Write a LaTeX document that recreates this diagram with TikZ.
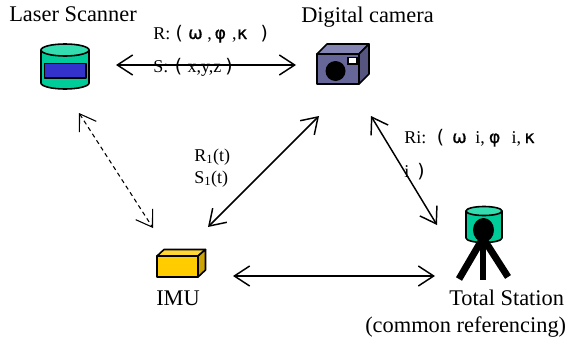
\documentclass[tikz,border=0pt]{standalone}
\usepackage{fontspec}
\setmainfont{Liberation Serif}
\newfontfamily\greekfont[FakeBold=0.6]{DejaVu Sans}
\newfontfamily\parenfont{DejaVu Sans}
\usepackage{tikz}
\usetikzlibrary{arrows.meta,positioning}
\definecolor{tealbody}{HTML}{00CC99}
\definecolor{tealtop}{HTML}{33DDB0}
\definecolor{scanblue}{HTML}{3333CC}
\definecolor{camfront}{HTML}{666699}
\definecolor{camtop}{HTML}{8585B3}
\definecolor{camside}{HTML}{55557F}
\definecolor{imufront}{HTML}{FFCC00}
\definecolor{imutop}{HTML}{FFD633}
\definecolor{imuside}{HTML}{CCA300}
\tikzset{
	biglabel/.style={anchor=base west,inner sep=0pt,font=\fontsize{16.8}{18}\selectfont},
	smalllabel/.style={anchor=base west,inner sep=0pt,font=\fontsize{13.5}{15}\selectfont},
	link/.style={line width=1.1pt,{Straight Barb[length=11.5pt,width=15pt,line width=1.1pt]}-{Straight Barb[length=11.5pt,width=15pt,line width=1.1pt]}},
	dashlink/.style={line width=.8pt,dash pattern=on 3.2pt off 2.6pt,{Straight Barb[length=11.5pt,width=15pt,line width=.8pt]}-{Straight Barb[length=11.5pt,width=15pt,line width=.8pt]}},
	icon/.style={draw=black,line width=1.2pt,line join=round}
}
\newcommand{\gr}[1]{{\greekfont\fontsize{13}{15}\selectfont #1}}
\newcommand{\pa}[1]{{\parenfont\fontsize{14}{15}\selectfont #1}}
\begin{document}
\begin{tikzpicture}[x=0.75pt,y=-0.75pt]
	\useasboundingbox (0,0) rectangle (567,343);
	% scanner
	\path[icon,fill=tealbody] (41,50) -- (41,83) arc[start angle=180,end angle=0,x radius=24,y radius=6] -- (89,50) -- cycle;
	\path[icon,fill=tealtop] (65,50) ellipse [x radius=24,y radius=6];
	\path[icon,fill=scanblue] (44.5,63.5) rectangle (86,78);
	% camera
	\path[icon,fill=camfront] (317,54) rectangle (359,84);
	\path[icon,fill=camtop] (317,54) -- (327,44) -- (369,44) -- (359,54) -- cycle;
	\path[icon,fill=camside] (359,54) -- (369,44) -- (369,74) -- (359,84) -- cycle;
	\path[fill=black] (335.5,71) circle [radius=10];
	\path[draw=black,line width=1pt,fill=white] (348,57.5) rectangle (357,64);
	% imu
	\path[icon,fill=imufront] (157,256) rectangle (198,277);
	\path[icon,fill=imutop] (157,256) -- (164,249.5) -- (205.5,249.5) -- (198,256) -- cycle;
	\path[icon,fill=imuside] (198,256) -- (205.5,249.5) -- (205.5,270) -- (198,277) -- cycle;
	% station
	\path[icon,fill=tealbody] (466,211) -- (466,238) arc[start angle=180,end angle=0,x radius=18,y radius=4.5] -- (502,211) -- cycle;
	\path[icon,fill=tealtop] (484,211) ellipse [x radius=18,y radius=4.5];
	\path[line width=5.2pt,draw=black] (483,238) -- (459,279);
	\path[line width=5.2pt,draw=black] (483,238) -- (483,280);
	\path[line width=5.2pt,draw=black] (483,238) -- (508,277);
	\path[fill=black] (483.5,230) ellipse [x radius=10.5,y radius=12];
	% labels
	\node[biglabel] (scannerlabel) at (9,21) {Laser Scanner};
	\node[biglabel] (cameralabel) at (301,22) {Digital camera};
	\node[biglabel] (imulabel) at (156,305) {IMU};
	\node[biglabel] (stationlabel) at (449,305) {Total Station};
	\node[biglabel] (commonlabel) at (365,332) {(common referencing)};
	\node[smalllabel] (rlabel) at (153,39) {R:\hspace{4pt}\pa{(}\hspace{4pt}\gr{ω}\hspace{3.5pt},\hspace{2pt}\gr{φ}\hspace{4.5pt},\hspace{.5pt}\gr{κ}\hspace{10pt}\pa{)}};
	\node[smalllabel] (slabel) at (153,72) {S:\hspace{5pt}\pa{(}\hspace{4pt}x,y,z\hspace{3pt}\pa{)}};
	\node[smalllabel] (rtlabel) at (194,161) {R\textsubscript{1}(t)};
	\node[smalllabel] (stlabel) at (194,183) {S\textsubscript{1}(t)};
	\node[smalllabel] (rilabel) at (404,143) {Ri:\hspace{8pt}\pa{(}\hspace{6pt}\gr{ω}\hspace{6.5pt}i,\hspace{3pt}\gr{φ}\hspace{8.5pt}i,\hspace{2.5pt}\gr{κ}};
	\node[smalllabel] (ilabel) at (404,177) {i\hspace{6pt}\pa{)}};
	% connectors
	\coordinate (scanE) at (116,65);
	\coordinate (camW) at (296,65);
	\coordinate (scanS) at (79,113);
	\coordinate (imuNW) at (153,228);
	\coordinate (imuNE) at (208,227);
	\coordinate (camSW) at (319,116);
	\coordinate (camSE) at (371,116);
	\coordinate (stationNW) at (437,225);
	\coordinate (imuE) at (233,276);
	\coordinate (stationW) at (435,276);
	\draw[link] (scanE) -- (camW);
	\draw[dashlink] (scanS) -- (imuNW);
	\draw[link] (imuNE) -- (camSW);
	\draw[link] (camSE) -- (stationNW);
	\draw[link] (imuE) -- (stationW);
\end{tikzpicture}
\end{document}
